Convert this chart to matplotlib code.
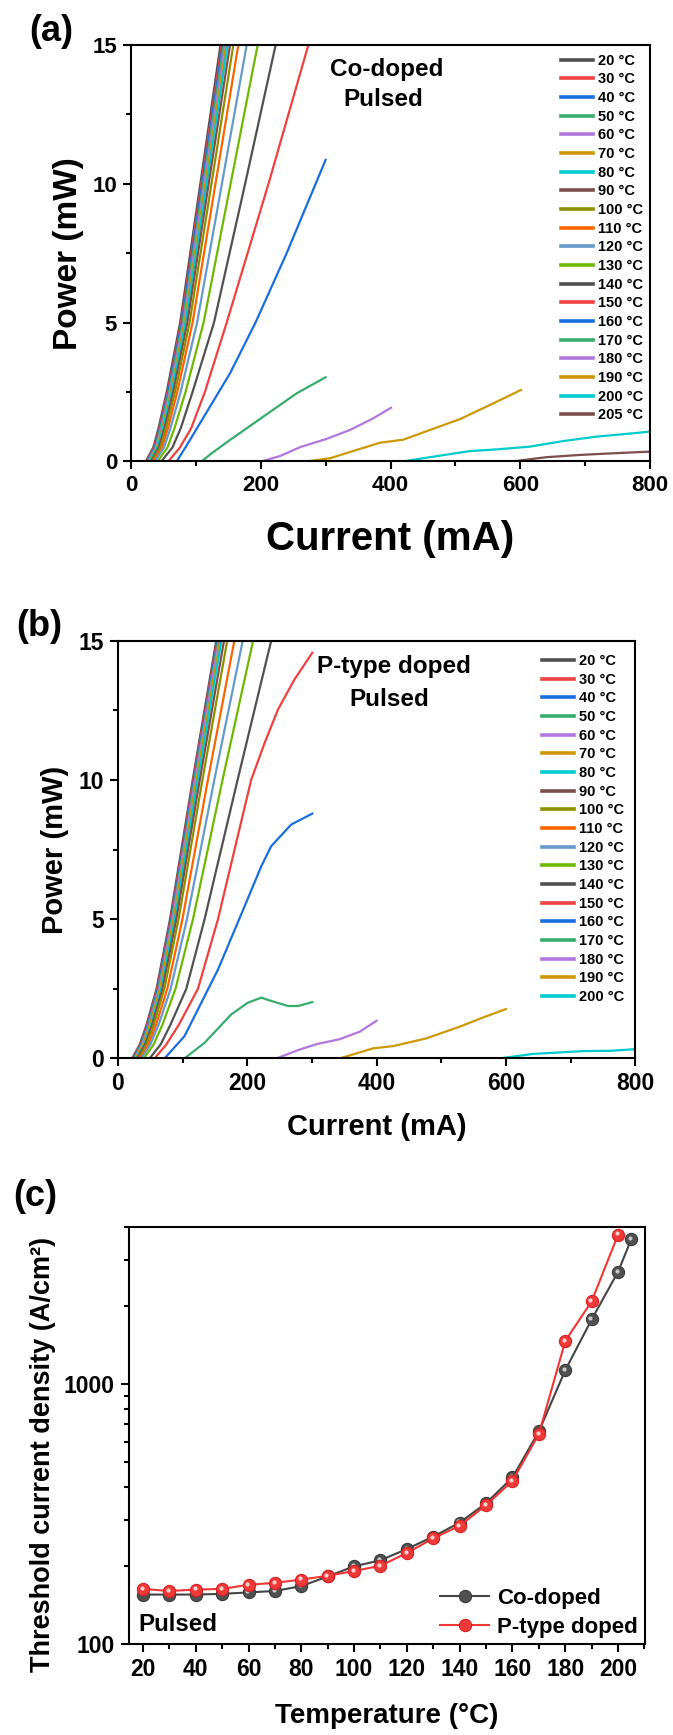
import matplotlib
matplotlib.use("Agg")
import matplotlib.pyplot as plt
from matplotlib.ticker import MultipleLocator, LogLocator, NullFormatter, FixedLocator
from matplotlib.transforms import offset_copy

plt.rcParams['font.family'] = ['Liberation Sans', 'DejaVu Sans']
plt.rcParams['font.weight'] = 'bold'
plt.rcParams['axes.linewidth'] = 1.5

# Origin "Bright" colour cycle
colors = ['#515151', '#F14040', '#1A6FDF', '#37AD6B', '#B177DE', '#CC9900',
          '#00CBCC', '#7D4E4E', '#8E8E00', '#FB6501', '#6699CC', '#6FB802']

temps_a = [20, 30, 40, 50, 60, 70, 80, 90, 100, 110, 120, 130, 140, 150, 160, 170, 180, 190, 200, 205]
temps_b = [20, 30, 40, 50, 60, 70, 80, 90, 100, 110, 120, 130, 140, 150, 160, 170, 180, 190, 200]

# ---- panel (a), Co-doped, pulsed: L-I curves (mA, mW)
a_current = [
    [0, 23, 34.5, 42.6, 55.2, 75.9, 107, 138],
    [0, 24, 35.6, 43.7, 56.5, 77.4, 108.7, 140],
    [0, 25, 36.7, 44.8, 57.6, 78.6, 110, 141.5],
    [0, 26, 37.7, 45.9, 58.8, 79.8, 111.4, 143],
    [0, 27, 38.8, 47.1, 60, 81.3, 113.1, 145],
    [0, 28, 39.9, 48.2, 61.3, 82.7, 114.9, 147],
    [0, 29, 41, 49.4, 62.6, 84.2, 116.6, 149],
    [0, 31, 43.2, 51.7, 65.1, 87, 119.8, 152.7],
    [0, 33, 45.5, 54.2, 68, 90.4, 124.1, 157.8],
    [0, 35, 48, 57.2, 71.5, 95, 130.3, 165.5],
    [0, 37, 51.1, 61, 76.6, 102, 140.2, 178.4],
    [0, 41, 56.4, 67.2, 84.2, 112, 153.6, 195.3],
    [0, 47, 64, 76.9, 95, 128, 176, 223],
    [0, 57.7, 75.6, 93, 114, 147.6, 212, 273.4],
    [0, 70.5, 84, 152.7, 192, 240, 300],
    [0, 109, 125, 152.7, 204, 255.4, 300],
    [0, 201.5, 229.7, 260.5, 301.6, 337.5, 373.4, 400.7],
    [0, 270.7, 306.6, 347.7, 383.6, 419.6, 460.7, 506.9, 553.1, 600.8],
    [0, 419.6, 460.7, 522.3, 563.4, 614.7, 666, 717.3, 768.7, 799.5],
    [0, 589, 640.2, 691.6, 742.9, 799.5],
]
a_power = [
    [0, 0, 0.5, 1.2, 2.5, 5, 10, 15],
    [0, 0, 0.5, 1.2, 2.5, 5, 10, 15],
    [0, 0, 0.5, 1.2, 2.5, 5, 10, 15],
    [0, 0, 0.5, 1.2, 2.5, 5, 10, 15],
    [0, 0, 0.5, 1.2, 2.5, 5, 10, 15],
    [0, 0, 0.5, 1.2, 2.5, 5, 10, 15],
    [0, 0, 0.5, 1.2, 2.5, 5, 10, 15],
    [0, 0, 0.5, 1.2, 2.5, 5, 10, 15],
    [0, 0, 0.5, 1.2, 2.5, 5, 10, 15],
    [0, 0, 0.5, 1.2, 2.5, 5, 10, 15],
    [0, 0, 0.5, 1.2, 2.5, 5, 10, 15],
    [0, 0, 0.5, 1.2, 2.5, 5, 10, 15],
    [0, 0, 0.5, 1.2, 2.5, 5, 10, 15],
    [0, 0, 0.5, 1.2, 2.5, 5, 10, 15],
    [0, 0, 0.5, 3.17, 5, 7.5, 10.86],
    [0, 0, 0.3, 0.77, 1.61, 2.45, 3.03],
    [0, 0, 0.19, 0.51, 0.81, 1.13, 1.55, 1.93],
    [0, 0, 0.11, 0.41, 0.67, 0.78, 1.13, 1.52, 2.03, 2.57],
    [0, 0, 0.15, 0.37, 0.43, 0.53, 0.73, 0.89, 1.0, 1.07],
    [0, 0, 0.15, 0.23, 0.29, 0.35],
]

# ---- panel (b), P-type doped, pulsed
b_current = [
    [0, 22, 33.7, 44.1, 59.7, 80.5, 115.6, 152],
    [0, 23, 34.7, 45.1, 60.7, 81.5, 116.6, 153],
    [0, 24, 35.7, 46.1, 61.7, 82.5, 117.6, 154],
    [0, 25, 36.7, 47.1, 62.7, 83.5, 118.6, 155],
    [0, 26, 37.7, 48.1, 63.7, 84.5, 119.6, 156],
    [0, 27, 38.8, 49.3, 65, 86, 121.3, 158],
    [0, 29, 40.8, 51.3, 67, 88, 123.3, 160],
    [0, 30, 42, 52.8, 68.9, 90.3, 126.5, 164],
    [0, 32, 44.3, 55.3, 71.7, 93.7, 130.6, 169],
    [0, 34, 47.1, 58.8, 76.3, 99.7, 139.1, 180],
    [0, 36, 50.1, 62.7, 81.5, 106.7, 149, 193],
    [0, 40, 55.2, 68.7, 89, 116, 161.7, 209],
    [0, 49, 66, 81, 105.7, 134, 185, 237],
    [0, 56.7, 74.8, 94, 123.7, 154.7, 206, 227, 247.5, 273, 300.6],
    [0, 72.2, 103, 154.7, 196, 221.7, 237, 268, 300.6],
    [0, 103, 134, 175.3, 201, 221.7, 237.2, 263, 278.4, 300.6],
    [0, 245.4, 281.4, 307.2, 343.3, 374.2, 400],
    [0, 343.3, 394.8, 425.8, 477.3, 528.9, 565, 600],
    [0, 590.7, 642.3, 719.6, 760.8, 800],
]
b_power = [
    [0, 0, 0.5, 1.2, 2.5, 5, 10, 15],
    [0, 0, 0.5, 1.2, 2.5, 5, 10, 15],
    [0, 0, 0.5, 1.2, 2.5, 5, 10, 15],
    [0, 0, 0.5, 1.2, 2.5, 5, 10, 15],
    [0, 0, 0.5, 1.2, 2.5, 5, 10, 15],
    [0, 0, 0.5, 1.2, 2.5, 5, 10, 15],
    [0, 0, 0.5, 1.2, 2.5, 5, 10, 15],
    [0, 0, 0.5, 1.2, 2.5, 5, 10, 15],
    [0, 0, 0.5, 1.2, 2.5, 5, 10, 15],
    [0, 0, 0.5, 1.2, 2.5, 5, 10, 15],
    [0, 0, 0.5, 1.2, 2.5, 5, 10, 15],
    [0, 0, 0.5, 1.2, 2.5, 5, 10, 15],
    [0, 0, 0.5, 1.2, 2.5, 5, 10, 15],
    [0, 0, 0.5, 1.2, 2.5, 5, 10, 11.34, 12.53, 13.61, 14.57],
    [0, 0, 0.8, 3.19, 5.47, 6.9, 7.62, 8.4, 8.79],
    [0, 0, 0.56, 1.58, 2.0, 2.18, 2.06, 1.88, 1.88, 2.02],
    [0, 0, 0.32, 0.51, 0.69, 0.96, 1.35],
    [0, 0, 0.36, 0.44, 0.72, 1.14, 1.47, 1.77],
    [0, 0, 0.16, 0.26, 0.27, 0.33],
]

# ---- panel (c), threshold current density (A/cm^2)
temps_c_co = [20, 30, 40, 50, 60, 70, 80, 90, 100, 110, 120, 130, 140, 150, 160, 170, 180, 190, 200, 205]
jth_co = [155, 155, 155, 156, 158, 160, 167, 182, 199, 210, 232, 259, 293, 348, 437, 657, 1130, 1770, 2700, 3600]
temps_c_p = [20, 30, 40, 50, 60, 70, 80, 90, 100, 110, 120, 130, 140, 150, 160, 170, 180, 190, 200]
jth_p = [163, 160, 162, 163, 169, 172, 177, 183, 191, 200, 224, 255, 285, 342, 424, 642, 1462, 2080, 3750]

fig = plt.figure(figsize=(6.73, 17.35), dpi=100)


def style_ticks(ax, size):
    ax.tick_params(which='major', direction='out', length=6, width=1.5, labelsize=size, pad=4,
                   top=False, right=False)
    ax.tick_params(which='minor', direction='out', length=3.5, width=1.5, top=False, right=False)
    for lab in ax.get_xticklabels() + ax.get_yticklabels():
        lab.set_fontweight('bold')


def li_panel(rect, temps, currents, powers, tick_size, leg_anchor):
    ax = fig.add_axes(rect)
    for i, t in enumerate(temps):
        ax.plot(currents[i], powers[i], color=colors[i % len(colors)], lw=1.6,
                label=f'{t} °C', solid_joinstyle='round')
    ax.set_xlim(0, 800)
    ax.set_ylim(0, 15)
    ax.xaxis.set_major_locator(MultipleLocator(200))
    ax.xaxis.set_minor_locator(MultipleLocator(100))
    ax.yaxis.set_major_locator(MultipleLocator(5))
    ax.yaxis.set_minor_locator(MultipleLocator(2.5))
    style_ticks(ax, tick_size)
    leg = ax.legend(loc='upper left', bbox_to_anchor=leg_anchor, frameon=False,
                    fontsize=10.5, handlelength=2.2, handletextpad=0.35,
                    labelspacing=0.32, borderpad=0, borderaxespad=0)
    for h in leg.get_lines():
        h.set_linewidth(2.6)
    for tx in leg.get_texts():
        tx.set_fontweight('bold')
    return ax


# (a)
ax_a = li_panel([0.1945, 0.7341, 0.7716, 0.2400], temps_a, a_current, a_power, 16, (0.828, 0.979))
ax_a.set_xlabel('Current (mA)', fontsize=29, fontweight='bold')
ax_a.set_ylabel('Power (mW)', fontsize=24, fontweight='bold')
ax_a.xaxis.set_label_coords(0.5, -0.14)
ax_a.yaxis.set_label_coords(-0.091, 0.5)
ax_a.text(0.493, 0.941, 'Co-doped', transform=ax_a.transAxes, ha='center', va='center',
          fontsize=17.5, fontweight='bold')
ax_a.text(0.486, 0.870, 'Pulsed', transform=ax_a.transAxes, ha='center', va='center',
          fontsize=17.5, fontweight='bold')

# (b)
ax_b = li_panel([0.1753, 0.3900, 0.7685, 0.2407], temps_b, b_current, b_power, 16.5, (0.819, 0.968))
ax_b.set_xlabel('Current (mA)', fontsize=21, fontweight='bold')
ax_b.set_ylabel('Power (mW)', fontsize=21, fontweight='bold')
ax_b.xaxis.set_label_coords(0.5, -0.131)
ax_b.yaxis.set_label_coords(-0.095, 0.5)
ax_b.text(0.533, 0.938, 'P-type doped', transform=ax_b.transAxes, ha='center', va='center',
          fontsize=17.5, fontweight='bold')
ax_b.text(0.525, 0.8585, 'Pulsed', transform=ax_b.transAxes, ha='center', va='center',
          fontsize=17.5, fontweight='bold')

# (c)
ax_c = fig.add_axes([0.1914, 0.0524, 0.7670, 0.2402])
ax_c.set_yscale('log')
hl = offset_copy(ax_c.transData, fig=fig, x=-1.2, y=1.2, units='dots')
ax_c.plot(temps_c_co, jth_co, color='#444444', lw=1.5, marker='o', ms=8.8,
          mfc='#505050', mec='#3a3a3a', mew=0.8, label='Co-doped')
ax_c.plot(temps_c_co, jth_co, ls='none', marker='o', ms=3, mfc='#c8c8c8', mec='none',
          transform=hl)
ax_c.plot(temps_c_p, jth_p, color='#F03535', lw=1.5, marker='o', ms=8.8,
          mfc='#F03a3a', mec='#d82020', mew=0.8, label='P-type doped')
ax_c.plot(temps_c_p, jth_p, ls='none', marker='o', ms=3, mfc='#ffd0d0', mec='none',
          transform=hl)
ax_c.set_xlim(14.66, 210.2)
ax_c.set_ylim(100, 4000)
ax_c.xaxis.set_major_locator(MultipleLocator(20))
ax_c.xaxis.set_minor_locator(MultipleLocator(10))
ax_c.yaxis.set_major_locator(FixedLocator([100, 1000]))
ax_c.yaxis.set_minor_locator(LogLocator(base=10, subs=range(2, 10)))
ax_c.yaxis.set_minor_formatter(NullFormatter())
ax_c.set_yticks([100, 1000])
ax_c.set_yticklabels(['100', '1000'])
style_ticks(ax_c, 16.5)
ax_c.set_xlabel('Temperature (°C)', fontsize=20, fontweight='bold')
ax_c.set_ylabel('Threshold current density (A/cm²)', fontsize=19.5, fontweight='bold')
ax_c.xaxis.set_label_coords(0.5, -0.142)
ax_c.yaxis.set_label_coords(-0.141, 0.455)
ax_c.text(0.018, 0.048, 'Pulsed', transform=ax_c.transAxes, ha='left', va='center',
          fontsize=17.4, fontweight='bold')
leg_c = ax_c.legend(loc='upper left', bbox_to_anchor=(0.603, 0.134), frameon=False,
                    fontsize=16, handlelength=2.2, handletextpad=0.35, labelspacing=0.36,
                    borderpad=0, borderaxespad=0)
for tx in leg_c.get_texts():
    tx.set_fontweight('bold')

# panel letters
fig.text(0.0765, 0.9821, '(a)', ha='center', va='center', fontsize=26, fontweight='bold')
fig.text(0.059, 0.6388, '(b)', ha='center', va='center', fontsize=26, fontweight='bold')
fig.text(0.0526, 0.3101, '(c)', ha='center', va='center', fontsize=26, fontweight='bold')

fig.savefig('out.png', dpi=100)
